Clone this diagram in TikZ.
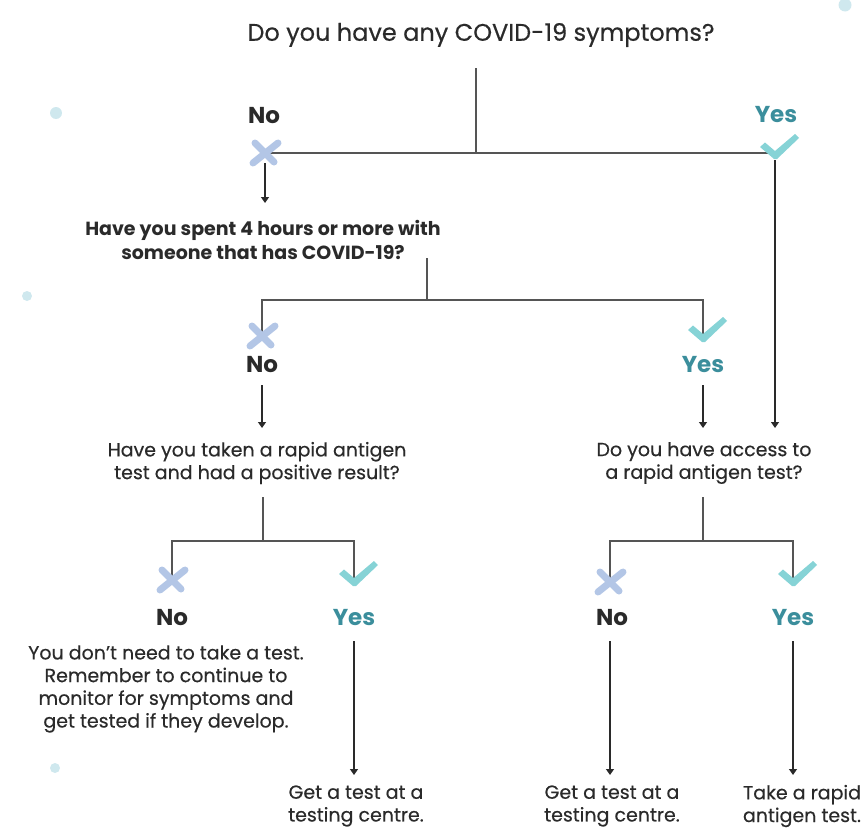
\documentclass[tikz,border=0pt]{standalone}
\usepackage{fontspec}
\setmainfont{Poppins}
\newfontfamily\medfont[FakeBold=0.4]{Poppins}
\usetikzlibrary{arrows.meta}
\definecolor{linegray}{HTML}{555555}
\definecolor{xblue}{HTML}{B3C6E6}
\definecolor{tickteal}{HTML}{86D3D6}
\definecolor{yesteal}{HTML}{3B8E9C}
\definecolor{dotblue}{HTML}{CFE8EE}
\definecolor{txt}{HTML}{2A2A2A}
\tikzset{
  conn/.style={draw=linegray, line width=1.3pt},
  arr/.style={draw=txt, line width=1.3pt, -{Triangle[width=8pt,length=6pt]}},
  title/.style={font=\medfont\fontsize{24}{28}\selectfont, text=txt, align=center, inner sep=0pt},
  qbold/.style={font=\fontsize{19}{24}\selectfont\bfseries, text=txt, align=center, inner sep=0pt},
  qreg/.style={font=\medfont\fontsize{19}{22.7}\selectfont, text=txt, align=center, inner sep=0pt},
  nolab/.style={font=\fontsize{23}{26}\selectfont\bfseries, text=txt, inner sep=0pt},
  yeslab/.style={font=\fontsize{23}{26}\selectfont\bfseries, text=yesteal, inner sep=0pt},
  dot/.style={fill=dotblue, draw=none},
  nomark/.pic={
    \draw[xblue, line width=7pt, line cap=round] (-12,10) -- (13,-10);
    \draw[xblue, line width=7pt, line cap=round] (-10,-10) -- (9,9);
  },
  okmark/.pic={
    \fill[tickteal] (-15,-6) -- (-10,-10.5) -- (0,-2) -- (20,-19) -- (24,-15) -- (2,6) -- (-1,6) -- cycle;
  },
}
\begin{document}
\begin{tikzpicture}[x=1pt,y=-1pt]
\useasboundingbox (0,0) rectangle (868,830);
\clip (0,0) rectangle (868,830);
% decorative dots
\fill[dot] (56,113) circle (6);
\fill[dot] (27,296) circle (5);
\fill[dot] (55,768) circle (5);
\fill[dot] (845,5) circle (6.5);

% texts
\node[title] (q1) at (481,35) {Do you have any COVID-19 symptoms?};
\node[nolab] (no1) at (264,116) {No};
\node[yeslab] (yes1) at (776,115) {Yes};
\node[qbold] (q2) at (263,240) {Have you spent 4 hours or more with\\someone that has COVID-19?};
\node[nolab] (no2) at (262,365) {No};
\node[yeslab] (yes2) at (703,365) {Yes};
\node[qreg] (q3) at (257,463) {Have you taken a rapid antigen\\test and had a positive result?};
\node[qreg] (q4) at (704,463) {Do you have access to\\a rapid antigen test?};
\node[nolab] (no3) at (172,618) {No};
\node[yeslab] (yes3) at (354,618) {Yes};
\node[nolab] (no4) at (612,618) {No};
\node[yeslab] (yes4) at (793,618) {Yes};
\node[qreg] (r1) at (166,689) {You don’t need to take a test.\\Remember to continue to\\monitor for symptoms and\\get tested if they develop.};
\node[qreg] (r2) at (356,806) {Get a test at a\\testing centre.};
\node[qreg] (r3) at (612,806) {Get a test at a\\testing centre.};
\node[qreg] (r4) at (802,806) {Take a rapid\\antigen test.};

% junction coordinates
\coordinate (j1t) at (476,68);
\coordinate (j1) at (476,153);
\coordinate (x1) at (265,153);
\coordinate (c1) at (775,153);
\coordinate (a1s) at (265,163);
\coordinate (a1e) at (265,203);
\coordinate (j2t) at (427,258);
\coordinate (j2) at (427,300);
\coordinate (x2) at (262,300);
\coordinate (c2) at (703,300);
\coordinate (m2x) at (262,336);
\coordinate (m2c) at (703,336);
\coordinate (a2s) at (262,385);
\coordinate (a2e) at (262,428);
\coordinate (a3s) at (703,385);
\coordinate (a3e) at (703,428);
\coordinate (c1b) at (775,160);
\coordinate (a4e) at (775,428);
\coordinate (j3t) at (263,497);
\coordinate (j3) at (263,541);
\coordinate (x3) at (172,541);
\coordinate (c3) at (354,541);
\coordinate (m3x) at (172,580);
\coordinate (m3c) at (354,580);
\coordinate (j4t) at (703,497);
\coordinate (j4) at (703,541);
\coordinate (x4) at (610,541);
\coordinate (c4) at (793,541);
\coordinate (m4x) at (610,582);
\coordinate (m4c) at (793,580);
\coordinate (a5s) at (354,641);
\coordinate (a5e) at (354,775);
\coordinate (a6s) at (610,641);
\coordinate (a6e) at (610,775);
\coordinate (a7s) at (793,641);
\coordinate (a7e) at (793,775);

% connectors
\draw[conn] (j1t) -- (j1);
\draw[conn] (x1) -- (c1);
\draw[arr] (a1s) -- (a1e);
\draw[conn] (j2t) -- (j2);
\draw[conn] (m2x) -- (x2) -- (c2) -- (m2c);
\draw[arr] (a2s) -- (a2e);
\draw[arr] (a3s) -- (a3e);
\draw[arr] (c1b) -- (a4e);
\draw[conn] (j3t) -- (j3);
\draw[conn] (m3x) -- (x3) -- (c3) -- (m3c);
\draw[conn] (j4t) -- (j4);
\draw[conn] (m4x) -- (x4) -- (c4) -- (m4c);
\draw[arr] (a5s) -- (a5e);
\draw[arr] (a6s) -- (a6e);
\draw[arr] (a7s) -- (a7e);

% marks
\pic at (x1) {nomark};
\pic at (c1) {okmark};
\pic at (m2x) {nomark};
\pic at (m2c) {okmark};
\pic at (m3x) {nomark};
\pic at (m3c) {okmark};
\pic at (m4x) {nomark};
\pic at (m4c) {okmark};
\end{tikzpicture}
\end{document}
